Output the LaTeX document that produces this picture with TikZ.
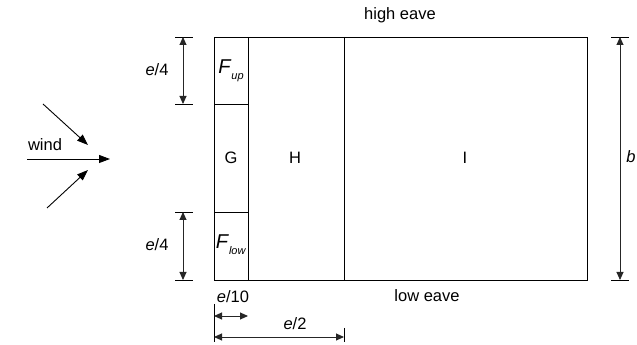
\documentclass[tikz,border=0pt]{standalone}
\usepackage{fontspec}
\setmainfont{Liberation Sans}
\usetikzlibrary{positioning, calc, arrows.meta}

\tikzset{
  dimline/.style={{Triangle[length=8pt,width=7pt]}-{Triangle[length=8pt,width=7pt]}, black!85},
  windarrow/.style={-{Triangle[length=11pt,width=8pt]}},
  lbl/.style={font=\fontsize{16.5}{18}\selectfont, inner sep=1pt},
}

\begin{document}
\begin{tikzpicture}[x=1pt, y=1pt, line width=0.9pt]
    \useasboundingbox (0,0) rectangle (637,345);

    % Roof outline
    \coordinate (sw) at (214,65);
    \coordinate (ne) at (587,308);
    \draw (sw) rectangle (ne);

    % Zone boundaries
    \coordinate (gtop) at (248,308);
    \coordinate (gbot) at (248,65);
    \coordinate (htop) at (344,308);
    \coordinate (hbot) at (344,65);
    \coordinate (fupl) at (214,241);
    \coordinate (fupr) at (248,241);
    \coordinate (flowl) at (214,133);
    \coordinate (flowr) at (248,133);
    \draw (gtop) -- (gbot);
    \draw (htop) -- (hbot);
    \draw (fupl) -- (fupr);
    \draw (flowl) -- (flowr);

    % Zone labels
    \node[lbl] (Fup) at (231,274) {\fontsize{20}{20}\selectfont\textit{F}\raisebox{-0.55ex}{\fontsize{11}{11}\selectfont\textit{up}}};
    \node[lbl] (G) at (231,187) {G};
    \node[lbl] (H) at (295,187) {H};
    \node[lbl] (I) at (465,187) {I};
    \node[lbl] (Flow) at (231,100) {\fontsize{20}{20}\selectfont\textit{F}\raisebox{-0.55ex}{\fontsize{11}{11}\selectfont\textit{low}}};
    \node[lbl] (high) at (400,330) {high eave};
    \node[lbl] (low) at (427,49) {low eave};

    % Wind arrows
    \coordinate (wa) at (27,186);
    \coordinate (wb) at (110,186);
    \coordinate (ua) at (43,241);
    \coordinate (ub) at (88,200);
    \coordinate (da) at (47,137);
    \coordinate (db) at (88,175);
    \draw[windarrow] (wa) -- (wb);
    \draw[windarrow] (ua) -- (ub);
    \draw[windarrow] (da) -- (db);
    \node[lbl] (wind) at (45,200) {wind};

    % Upper e/4 dimension
    \draw (175,308) -- (193,308);
    \draw (175,241) -- (193,241);
    \coordinate (ut) at (183,308);
    \coordinate (ub2) at (183,241);
    \draw[dimline] (ut) -- (ub2);
    \node[lbl] (equp) at (157,275) {\textit{e}/4};

    % Lower e/4 dimension
    \draw (175,133) -- (193,133);
    \draw (175,65) -- (193,65);
    \coordinate (lt) at (183,133);
    \coordinate (lb) at (183,65);
    \draw[dimline] (lt) -- (lb);
    \node[lbl] (eqlow) at (157,100) {\textit{e}/4};

    % Depth b
    \draw (611,308) -- (629,308);
    \draw (611,65) -- (629,65);
    \coordinate (bt) at (620,308);
    \coordinate (bb) at (620,65);
    \draw[dimline] (bt) -- (bb);
    \node[lbl, anchor=east, inner sep=0pt] (b) at (636,188) {\textit{b}};

    % e/10 and e/2 dimensions
    \draw (214,41) -- (214,3);
    \draw (344,17) -- (344,3);
    \coordinate (ta) at (214,29);
    \coordinate (tb) at (248,29);
    \coordinate (ha) at (214,8);
    \coordinate (hb) at (344,8);
    \draw[dimline] (ta) -- (tb);
    \draw[dimline] (ha) -- (hb);
    \node[lbl] (eten) at (233,48) {\textit{e}/10};
    \node[lbl] (ehalf) at (295,21) {\textit{e}/2};

\end{tikzpicture}
\end{document}
